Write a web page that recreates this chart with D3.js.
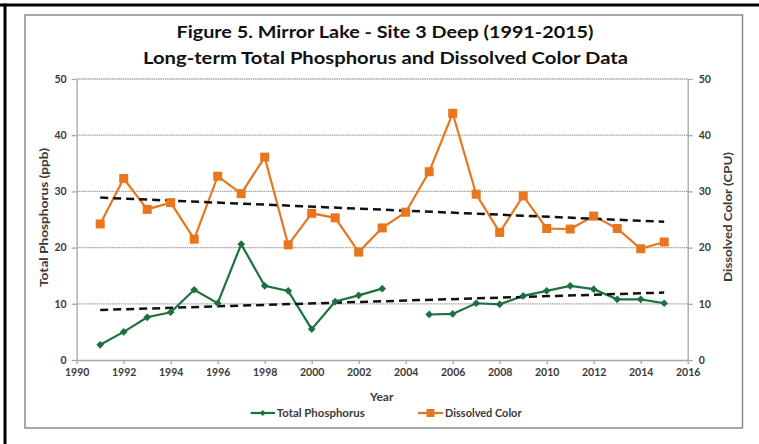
<!DOCTYPE html>
<html>
<head>
<meta charset="utf-8">
<script src="https://cdn.jsdelivr.net/npm/d3@7"></script>
<style>
  html, body { margin: 0; padding: 0; background: #fff; }
  svg { display: block; }
  text { font-family: Lato, "Open Sans", sans-serif; }
</style>
</head>
<body>
<svg id="chart" width="759" height="444"></svg>
<script>
// ---- data ----
const years = [1991,1992,1993,1994,1995,1996,1997,1998,1999,2000,2001,2002,2003,2004,2005,2006,2007,2008,2009,2010,2011,2012,2013,2014,2015];
const totalPhosphorus = [2.7,5.0,7.6,8.5,12.5,10.1,20.6,13.2,12.3,5.5,10.4,11.5,12.7,null,8.1,8.2,10.1,9.9,11.4,12.3,13.2,12.6,10.8,10.8,10.1];
const dissolvedColor = [24.2,32.3,26.8,28.0,21.5,32.7,29.6,36.1,20.5,26.1,25.3,19.2,23.5,26.3,33.5,43.9,29.5,22.7,29.2,23.4,23.3,25.6,23.4,19.8,21.0];
const trendYears = [1991, 2015];
const tpTrend = [8.9, 12.0];
const colorTrend = [28.9, 24.6];
const xTicks = [1990,1992,1994,1996,1998,2000,2002,2004,2006,2008,2010,2012,2014,2016];
const yTicks = [0,10,20,30,40,50];
const titleLines = ["Figure 5. Mirror Lake - Site 3 Deep (1991-2015)", "Long-term Total Phosphorus and Dissolved Color Data"];
const seriesNames = ["Total Phosphorus", "Dissolved Color"];

const GREEN = "#1d7040", ORANGE = "#e8761f", GRID = "#a6a6a6", TXT = "#3a3a3a";

const svg = d3.select("#chart");

// outer frame (black lines top & left), chart area border
svg.append("line").attr("x1", 0).attr("x2", 759).attr("y1", 5).attr("y2", 5).attr("stroke", "#000").attr("stroke-width", 3);
svg.append("line").attr("x1", 5).attr("x2", 5).attr("y1", 3.5).attr("y2", 444).attr("stroke", "#000").attr("stroke-width", 3);
svg.append("rect").attr("x", 25).attr("y", 15).attr("width", 717.5).attr("height", 413)
  .attr("fill", "#fff").attr("stroke", "#8c8c8c").attr("stroke-width", 1.5);

// scales
const x = d3.scaleLinear().domain([1990, 2016]).range([76.7, 687.7]);
const y = d3.scaleLinear().domain([0, 50]).range([360, 79]);

// gridlines
svg.append("g").selectAll("line").data(yTicks.filter(d => d > 0)).join("line")
  .attr("x1", x(1990)).attr("x2", x(2016))
  .attr("y1", d => y(d)).attr("y2", d => y(d))
  .attr("stroke", GRID).attr("stroke-width", 1.3).attr("stroke-dasharray", "1.5,0.7");

// axes
const axisStyle = g => {
  g.select(".domain").attr("stroke", GRID).attr("stroke-width", 1.3);
  g.selectAll(".tick line").attr("stroke", GRID).attr("stroke-width", 1.3);
  g.selectAll(".tick text").attr("fill", TXT).attr("font-size", "10.5px").attr("font-weight", "bold")
    .attr("font-family", "Lato, sans-serif");
};
svg.append("g").attr("transform", `translate(0,${y(0)})`)
  .call(d3.axisBottom(x).tickValues(xTicks).tickFormat(d3.format("d")).tickSize(4).tickSizeOuter(0).tickPadding(5))
  .call(axisStyle);
svg.append("g").attr("transform", `translate(${x(1990)},0)`)
  .call(d3.axisLeft(y).tickValues(yTicks).tickSize(5).tickSizeOuter(0).tickPadding(5))
  .call(axisStyle);
svg.append("g").attr("transform", `translate(${x(2016)},0)`)
  .call(d3.axisRight(y).tickValues(yTicks).tickSize(5).tickSizeOuter(0).tickPadding(6))
  .call(axisStyle);

// title
svg.append("text").attr("x", 385).attr("y", 38).attr("text-anchor", "middle")
  .attr("font-size", "17px").attr("font-weight", "bold").attr("fill", "#111")
  .attr("textLength", 417).attr("lengthAdjust", "spacingAndGlyphs").text(titleLines[0]);
svg.append("text").attr("x", 385.5).attr("y", 64).attr("text-anchor", "middle")
  .attr("font-size", "17px").attr("font-weight", "bold").attr("fill", "#111")
  .attr("textLength", 485).attr("lengthAdjust", "spacingAndGlyphs").text(titleLines[1]);

// axis titles
svg.append("text").attr("transform", "translate(48,217.5) rotate(-90)").attr("text-anchor", "middle")
  .attr("font-size", "11px").attr("font-weight", "bold").attr("fill", TXT)
  .attr("textLength", 139).attr("lengthAdjust", "spacingAndGlyphs").text("Total Phosphorus (ppb)");
svg.append("text").attr("transform", "translate(732,217) rotate(-90)").attr("text-anchor", "middle")
  .attr("font-size", "11px").attr("font-weight", "bold").attr("fill", TXT)
  .attr("textLength", 130).attr("lengthAdjust", "spacingAndGlyphs").text("Dissolved Color (CPU)");
svg.append("text").attr("x", 381.7).attr("y", 401).attr("text-anchor", "middle")
  .attr("font-size", "12px").attr("font-weight", "bold").attr("fill", TXT).text("Year");

// series lines
const tpData = years.map((yr, i) => ({ yr, v: totalPhosphorus[i] }));
const dcData = years.map((yr, i) => ({ yr, v: dissolvedColor[i] }));
const line = d3.line().defined(d => d.v != null).x(d => x(d.yr)).y(d => y(d.v));

svg.append("path").datum(dcData).attr("d", line).attr("fill", "none").attr("stroke", ORANGE).attr("stroke-width", 2.2);
svg.append("path").datum(tpData).attr("d", line).attr("fill", "none").attr("stroke", GREEN).attr("stroke-width", 2.2);

// trend lines
const trendLine = d3.line().x(d => x(d[0])).y(d => y(d[1]));
[tpTrend, colorTrend].forEach(tr => {
  svg.append("path").datum(trendYears.map((yr, i) => [yr, tr[i]])).attr("d", trendLine)
    .attr("fill", "none").attr("stroke", "#111").attr("stroke-width", 2.5).attr("stroke-dasharray", "8,5");
});

// markers
const sq = 9;
svg.append("g").selectAll("rect").data(dcData.filter(d => d.v != null)).join("rect")
  .attr("x", d => x(d.yr) - sq / 2).attr("y", d => y(d.v) - sq / 2)
  .attr("width", sq).attr("height", sq).attr("fill", ORANGE);
const diamond = d3.symbol().type(d3.symbolDiamond2).size(38);
svg.append("g").selectAll("path").data(tpData.filter(d => d.v != null)).join("path")
  .attr("transform", d => `translate(${x(d.yr)},${y(d.v)}) rotate(0)`)
  .attr("d", diamond).attr("fill", GREEN);

// legend
const lg = svg.append("g");
lg.append("line").attr("x1", 250.7).attr("x2", 275).attr("y1", 413).attr("y2", 413).attr("stroke", GREEN).attr("stroke-width", 2.2);
lg.append("path").attr("transform", "translate(262.8,413)").attr("d", d3.symbol().type(d3.symbolDiamond2).size(24)).attr("fill", GREEN);
lg.append("text").attr("x", 276.7).attr("y", 417).attr("font-size", "10.5px").attr("font-weight", "bold").attr("fill", TXT)
  .attr("textLength", 88).attr("lengthAdjust", "spacingAndGlyphs").text(seriesNames[0]);
lg.append("line").attr("x1", 418).attr("x2", 443).attr("y1", 413).attr("y2", 413).attr("stroke", ORANGE).attr("stroke-width", 2.2);
lg.append("rect").attr("x", 426.5).attr("y", 409).attr("width", 8).attr("height", 8).attr("fill", ORANGE);
lg.append("text").attr("x", 445).attr("y", 417).attr("font-size", "10.5px").attr("font-weight", "bold").attr("fill", TXT)
  .attr("textLength", 76.5).attr("lengthAdjust", "spacingAndGlyphs").text(seriesNames[1]);
</script>
</body>
</html>
